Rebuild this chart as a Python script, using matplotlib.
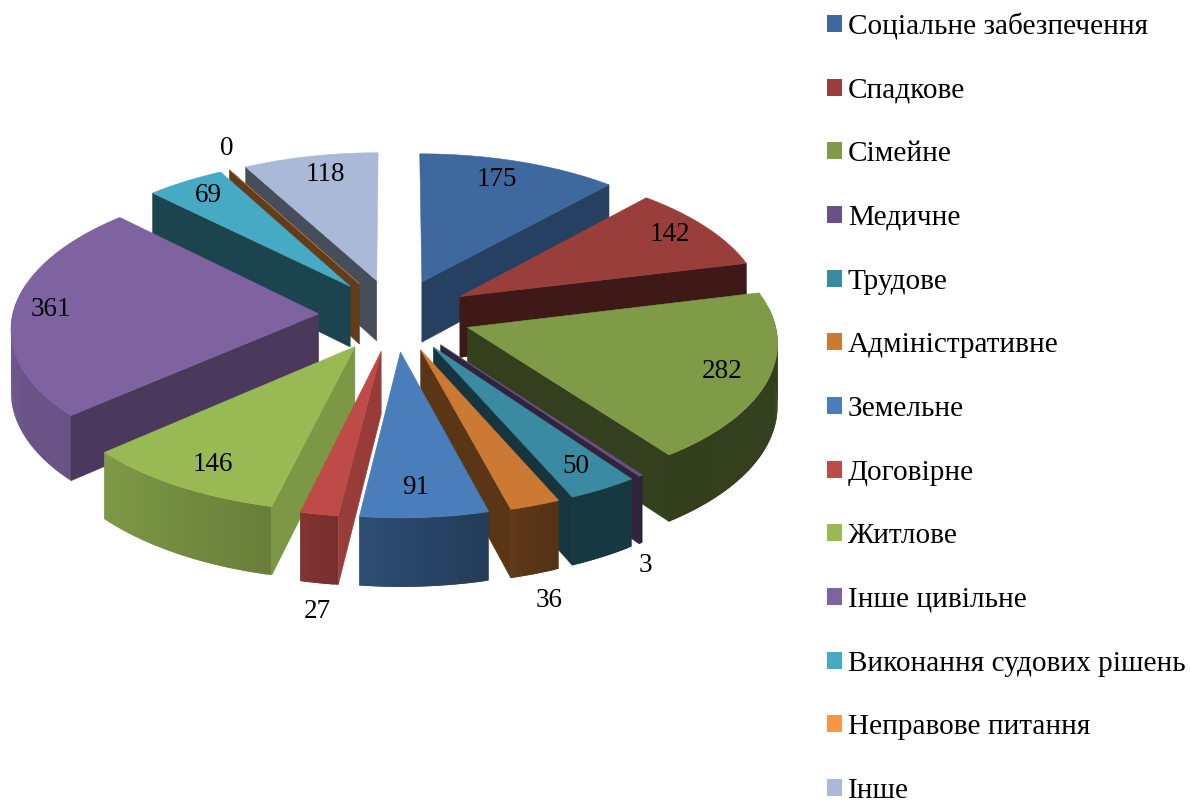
import numpy as np
import matplotlib
matplotlib.use("Agg")
import matplotlib.pyplot as plt
from matplotlib.patches import Patch

plt.rcParams['font.family'] = ['Liberation Serif', 'DejaVu Serif']

categories = ["Соціальне забезпечення", "Спадкове", "Сімейне", "Медичне", "Трудове",
              "Адміністративне", "Земельне", "Договірне", "Житлове", "Інше цивільне",
              "Виконання судових рішень", "Неправове питання", "Інше"]
values = [175, 142, 282, 3, 50, 36, 91, 27, 146, 361, 69, 0, 118]
colors = ["#3E689E", "#9A3E3B", "#7F9B47", "#6B5088", "#3A8BA2", "#CC7A33", "#4A7EBB",
          "#BE4B48", "#98B954", "#7F63A1", "#46AAC4", "#F79646", "#AAB9D8"]
# brightness of the radial cut faces of each slice
cut_shade = [0.62, 0.41, 0.41, 0.45, 0.38, 0.44, 0.5, 0.8, 0.82, 0.58, 0.40, 0.40, 0.42]
# data label offset from each slice's tip, in pixels
label_offset = [(75, -102), (210, -62), (255, 44), (205, 221), (142, 119), (128, 251), (15, 136),
                (-64, 260), (-142, 118), (-268, -4), (-142, -91), (-133, -135), (-51, -106)]

W, H = 1190, 802
CX, CY, R, RY, K, DEPTH, EXPLODE = 395, 315, 306, 144.7, 0.087, 61.5, 0.25


def project(px, py):
    s = 1 / (1 - K * py)
    return CX + R * px * s, CY + RY * py * s, s


def rim_shade(deg):
    return np.interp(deg, [76, 144, 156, 165, 186, 193, 228, 270, 315],
                     [0.42, 0.40, 0.40, 0.47, 0.61, 0.68, 0.83, 0.88, 0.85])


def scaled(color, f):
    return tuple(c * f for c in matplotlib.colors.to_rgb(color))


fig = plt.figure(figsize=(W / 100, H / 100), dpi=100, facecolor="white")
ax = fig.add_axes([0, 0, 1, 1])
ax.set_xlim(0, W)
ax.set_ylim(H, 0)
ax.axis("off")

total = sum(values)
edges = np.cumsum([0] + values) / total * 360
slices = []
for i, v in enumerate(values):
    a0, a1 = edges[i], edges[i + 1]
    mid = np.radians((a0 + a1) / 2)
    slices.append((-np.cos(mid), i, a0, a1, mid))

for _, i, a0, a1, mid in sorted(slices):
    col = colors[i]
    ox, oy = EXPLODE * np.sin(mid), -EXPLODE * np.cos(mid)
    n = max(2, int((a1 - a0) * 1.5) + 2)
    th = np.linspace(a0, a1, n)
    px = ox + np.sin(np.radians(th))
    py = oy - np.cos(np.radians(th))
    ix, iy, s = project(px, py)
    ax0, ay0, s0 = project(ox, oy)

    # outer rim in overlapping strips so its shade can change along the arc without seams
    for j in range(n - 1):
        tm = (th[j] + th[j + 1]) / 2
        if 82 < tm < 282:
            e = min(j + 2, n - 1)
            idx = list(range(j, e + 1))
            xs = np.r_[ix[idx], ix[idx][::-1]]
            ys = np.r_[iy[idx], (iy[idx] + DEPTH * s[idx])[::-1]]
            ax.fill(xs, ys, facecolor=scaled(col, rim_shade(tm)), edgecolor="none")

    # radial cut faces that look towards the viewer
    c = scaled(col, cut_shade[i])
    if np.sin(np.radians(a0)) < 0:
        ax.fill([ax0, ix[0], ix[0], ax0],
                [ay0, iy[0], iy[0] + DEPTH * s[0], ay0 + DEPTH * s0], color=c, lw=0.4)
    if np.sin(np.radians(a1)) > 0:
        ax.fill([ax0, ix[-1], ix[-1], ax0],
                [ay0, iy[-1], iy[-1] + DEPTH * s[-1], ay0 + DEPTH * s0], color=c, lw=0.4)

    # top face
    ax.fill(np.r_[ax0, ix], np.r_[ay0, iy], color=col, lw=0.4)

    dx, dy = label_offset[i]
    ax.text(ax0 + dx, ay0 + dy, str(values[i]), fontsize=19.5, ha="center", va="center",
            color="black", zorder=10)

handles = [Patch(facecolor=c, edgecolor="none") for c in colors]
leg = ax.legend(handles, categories, loc="upper left", bbox_to_anchor=(827 / W, 1 - 13 / H),
                bbox_transform=fig.transFigure, frameon=False, fontsize=21.1,
                labelspacing=1.285, handlelength=0.512, handleheight=0.512, handletextpad=0.2,
                borderpad=0, borderaxespad=0)

fig.savefig("out.png", dpi=100, facecolor="white")
